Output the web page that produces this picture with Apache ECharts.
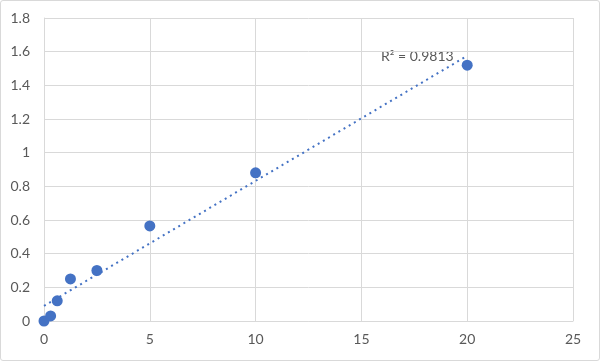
<!DOCTYPE html>
<html>
<head>
<meta charset="utf-8">
<script src="https://cdn.jsdelivr.net/npm/echarts@6/dist/echarts.min.js"></script>
<style>
  html, body { margin: 0; padding: 0; background: #fff; }
  #chart { width: 600px; height: 361px; box-sizing: border-box; border: 1px solid #d9d9d9; border-radius: 3px; }
</style>
</head>
<body>
<div id="chart"></div>
<script>
// concentration vs reading
var xValues = [0, 0.3125, 0.625, 1.25, 2.5, 5, 10, 20];
var yValues = [0, 0.03, 0.12, 0.25, 0.30, 0.565, 0.88, 1.52];
var rSquaredLabel = 'R² = 0.9813';
var xTicks = [0, 5, 10, 15, 20, 25];
var yTicks = [0, 0.2, 0.4, 0.6, 0.8, 1, 1.2, 1.4, 1.6, 1.8];

// least squares fit for the dotted trendline
function fitLine(xs, ys) {
	var n = xs.length, mx = 0, my = 0;
	for (var i = 0; i < n; i++) { mx += xs[i]; my += ys[i]; }
	mx /= n; my /= n;
	var sxy = 0, sxx = 0;
	for (var j = 0; j < n; j++) {
		sxy += (xs[j] - mx) * (ys[j] - my);
		sxx += (xs[j] - mx) * (xs[j] - mx);
	}
	var slope = sxy / sxx;
	return { slope: slope, intercept: my - slope * mx };
}
var fit = fitLine(xValues, yValues);
var xMin = Math.min.apply(null, xValues), xMax = Math.max.apply(null, xValues);
var trend = [[xMin, fit.intercept + fit.slope * xMin], [xMax, fit.intercept + fit.slope * xMax]];

var points = xValues.map(function(x, i) { return [x, yValues[i]]; });

var myChart = echarts.init(document.getElementById('chart'));
var option = {
	animation: false,
	grid: { left: 43, right: 26, top: 17, bottom: 39 },
	xAxis: {
		type: 'value',
		min: xTicks[0],
		max: xTicks[xTicks.length - 1],
		interval: 5,
		axisLine: { show: true, lineStyle: { color: '#d9d9d9' } },
		axisTick: { show: false },
		splitLine: { show: true, lineStyle: { color: '#d9d9d9' } },
		axisLabel: { color: '#595959', fontSize: 14, fontFamily: 'Lato', margin: 11 }
	},
	yAxis: {
		type: 'value',
		min: yTicks[0],
		max: yTicks[yTicks.length - 1],
		interval: 0.2,
		axisLine: { show: true, lineStyle: { color: '#d9d9d9' } },
		axisTick: { show: false },
		splitLine: { show: true, lineStyle: { color: '#d9d9d9' } },
		axisLabel: {
			color: '#595959', fontSize: 14, fontFamily: 'Lato', margin: 14,
			formatter: function(v) { return String(Math.round(v * 10) / 10); }
		}
	},
	series: [{
		type: 'line',
		data: trend,
		symbol: 'none',
		lineStyle: { color: '#4472c4', width: 2, type: [2, 4] },
		z: 1
	}, {
		type: 'scatter',
		data: points,
		symbolSize: 11,
		itemStyle: { color: '#4472c4', opacity: 1 },
		z: 2
	}],
	graphic: [{
		type: 'text',
		left: 380,
		top: 48,
		style: { text: rSquaredLabel, fill: '#595959', font: '14px Lato' }
	}]
};
myChart.setOption(option);
</script>
</body>
</html>
